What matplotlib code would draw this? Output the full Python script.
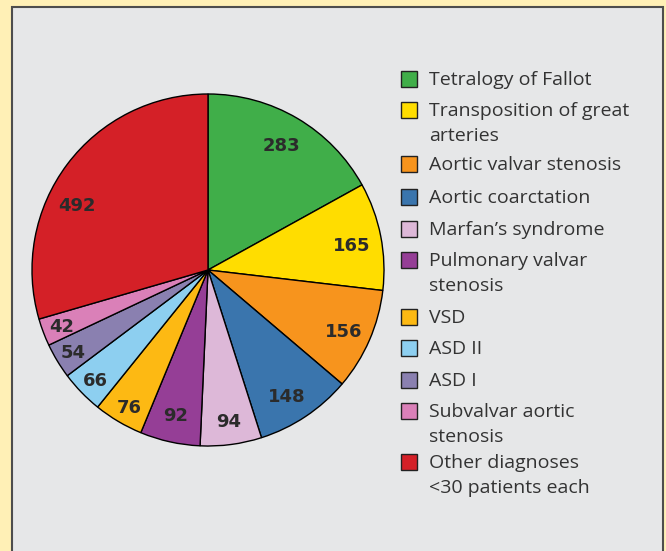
import numpy as np
import matplotlib.pyplot as plt
from matplotlib.patches import Rectangle

# diagnosis groups, clockwise from 12 o'clock
diagnoses = ["Tetralogy of Fallot", "Transposition of great\narteries",
             "Aortic valvar stenosis", "Aortic coarctation", "Marfan\u2019s syndrome",
             "Pulmonary valvar\nstenosis", "VSD", "ASD II", "ASD I",
             "Subvalvar aortic\nstenosis", "Other diagnoses\n<30 patients each"]
patients = [283, 165, 156, 148, 94, 92, 76, 66, 54, 42, 492]
colours = ["#40AE49", "#FFDD00", "#F7941D", "#3A75AD", "#DDB8D8", "#953E96",
           "#FDB913", "#8DCFF0", "#8A80B0", "#DA80B8", "#D42027"]

# where each count sits inside its slice (fraction of radius, angle nudge in deg)
label_r = [0.82, 0.83, 0.85, 0.85, 0.87, 0.85, 0.9, 0.9, 0.9, 0.89, 0.83]
label_nudge = [0, -1.5, -1, -2, 0, 0, 1, 0.5, 0.5, 0.5, 11]

W, H = 666, 551
fig = plt.figure(figsize=(W / 100, H / 100), dpi=100)
fig.patch.set_facecolor("#FFF0B6")

# grey panel
fig.patches.append(Rectangle((12 / W, -0.05), (663 - 12) / W, (H - 7) / H + 0.05,
                             transform=fig.transFigure, facecolor="#E6E7E8",
                             edgecolor="#4D4D4D", linewidth=1.5, zorder=-1))

ax = fig.add_axes([(208 - 180) / W, (281 - 180) / H, 360 / W, 360 / H])
ax.patch.set_visible(False)
wedges, _ = ax.pie(patients, colors=colours, startangle=90, counterclock=False,
                   wedgeprops=dict(edgecolor="black", linewidth=1))
for w, n, r, d in zip(wedges, patients, label_r, label_nudge):
    ang = np.deg2rad((w.theta1 + w.theta2) / 2 + d)
    ax.text(r * np.cos(ang), r * np.sin(ang), str(n), ha="center", va="center",
            fontsize=13, fontweight="bold", color="#2B2B2B")
ax.set_xlim(-180 / 176, 180 / 176)
ax.set_ylim(-180 / 176, 180 / 176)
ax.set_aspect("equal")

# legend drawn by hand (first-line centres in pixels)
legend_y = [79, 110, 164, 197, 229, 260, 317, 348, 380, 411, 462]
for name, col, y in zip(diagnoses, colours, legend_y):
    fig.patches.append(Rectangle((401 / W, 1 - (y + 8) / H), 16 / W, 16 / H,
                                 transform=fig.transFigure, facecolor=col,
                                 edgecolor="#222222", linewidth=1))
    fig.text(429 / W, 1 - (y - 8) / H, name, ha="left", va="top", fontsize=14,
             color="#333333", family="Open Sans", linespacing=1.5)

fig.savefig("out.png", dpi=100, facecolor=fig.get_facecolor())
